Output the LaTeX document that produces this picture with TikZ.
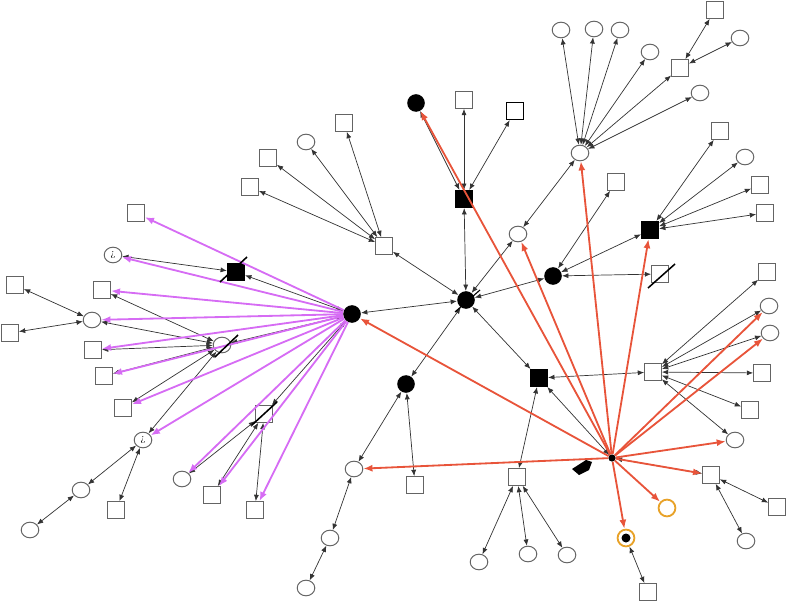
\documentclass[tikz,border=0pt]{standalone}
\usepackage{xcolor}
\usepackage{tikz}
\usetikzlibrary{shapes.geometric, arrows.meta, calc}
\definecolor{myred}{RGB}{232,84,58}
\definecolor{mypurple}{RGB}{214,108,244}
\definecolor{myorange}{RGB}{232,162,40}
\definecolor{mygray}{RGB}{100,100,100}
\tikzstyle{wcirc} = [ellipse, minimum width=0.44cm, minimum height=0.39cm, inner sep=0pt, draw=mygray, line width=0.7pt, fill=white]
\tikzstyle{wsq} = [rectangle, minimum size=0.42cm, inner sep=0pt, draw=mygray, line width=0.7pt, fill=white]
\tikzstyle{bcirc} = [circle, minimum size=0.44cm, inner sep=0pt, fill=black]
\tikzstyle{bsq} = [rectangle, minimum size=0.44cm, inner sep=0pt, fill=black]
\tikzstyle{oring} = [circle, minimum size=0.42cm, inner sep=0pt, draw=myorange, line width=1.3pt, fill=white]
\tikzstyle{link} = [{Latex[length=4.5pt,width=3.6pt]}-{Latex[length=4.5pt,width=3.6pt]}, black!80, line width=0.5pt]
\tikzstyle{redarrow} = [-{Latex[length=6.5pt,width=5pt]}, myred, line width=1.3pt]
\tikzstyle{purplearrow} = [-{Latex[length=6.5pt,width=5pt]}, mypurple, line width=1.3pt]
\tikzstyle{slash} = [black, line width=1.1pt]

\begin{document}
\begin{tikzpicture}[x=0.025cm, y=-0.025cm]
    \useasboundingbox (0,0) rectangle (788,603);
    % hubs
    \node (hub) [bcirc] at (466,300) {};
    \node (lhub) [bcirc] at (352,314) {};
    \node (rhub) [circle, fill=black, minimum size=0.18cm, inner sep=0pt] at (612,458) {};
    % top middle
    \node (tb) [bcirc] at (416,103) {};
    \node (tq) [wsq] at (464,100) {};
    \node (tqq) [wsq, draw=black, line width=1.2pt] at (515,111) {};
    \node (tbs) [bsq] at (464,199) {};
    \node (mc) [wcirc] at (518,234) {};
    \node (thub) [wcirc] at (580,153) {};
    \node (t1) [wcirc] at (561,30) {};
    \node (t2) [wcirc] at (594,29) {};
    \node (t3) [wcirc] at (620,30) {};
    \node (t4) [wcirc] at (650,52) {};
    \node (t5) [wcirc] at (700,93) {};
    \node (tsq) [wsq] at (680,68) {};
    \node (tsq1) [wsq] at (715,10) {};
    \node (tc1) [wcirc] at (740,38) {};
    % right side
    \node (msq) [wsq] at (616,182) {};
    \node (mb) [bcirc] at (553,276) {};
    \node (slq) [wsq] at (660,274) {};
    \node (rbs) [bsq] at (650,230) {};
    \node (r1) [wsq] at (720,131) {};
    \node (r2) [wcirc] at (745,157) {};
    \node (r3) [wsq] at (760,185) {};
    \node (r4) [wsq] at (765,213) {};
    \node (r5) [wsq] at (767,272) {};
    \node (r6) [wcirc] at (769,306) {};
    \node (r7) [wcirc] at (770,333) {};
    \node (shub) [wsq] at (653,372) {};
    \node (s1) [wsq] at (762,373) {};
    \node (s2) [wsq] at (750,410) {};
    \node (s3) [wcirc] at (735,440) {};
    \node (esq) [wsq] at (711,475) {};
    \node (e1) [wsq] at (777,507) {};
    \node (e2) [wcirc] at (746,541) {};
    \node (oc) [oring] at (667,508) {};
    \node (od) [oring] at (626,538) {};
    \fill (od) circle (3.2pt);
    \node (odq) [wsq] at (648,592) {};
    % bottom middle
    \node (cbs) [bsq] at (539,378) {};
    \node (bq) [wsq] at (517,477) {};
    \node (b1) [wcirc] at (479,562) {};
    \node (b2) [wcirc] at (528,554) {};
    \node (b3) [wcirc] at (567,555) {};
    \node (bb) [bcirc] at (406,384) {};
    \node (bbq) [wsq] at (415,485) {};
    \node (c1) [wcirc] at (354,469) {};
    \node (c2) [wcirc] at (330,538) {};
    \node (c3) [wcirc] at (306,588) {};
    % upper left
    \node (ulq) [wsq] at (384,246) {};
    \node (u1) [wsq] at (344,123) {};
    \node (u2) [wcirc] at (306,142) {};
    \node (u3) [wsq] at (268,158) {};
    \node (u4) [wsq] at (250,187) {};
    % left
    \node (lbs) [bsq] at (236,272) {};
    \node (lq1) [wsq] at (136,213) {};
    \node (le1) [wcirc] at (113,255) {\scriptsize ¿};
    \node (lq2) [wsq] at (102,290) {};
    \node (lc) [wcirc] at (92,320) {};
    \node (lq0) [wsq] at (15,285) {};
    \node (lq00) [wsq] at (10,333) {};
    \node (lhub2) [wcirc] at (222,345) {};
    \node (lq3) [wsq] at (93,350) {};
    \node (lq4) [wsq] at (104,376) {};
    \node (lq5) [wsq] at (123,408) {};
    \node (le2) [wcirc] at (143,440) {\scriptsize ¿};
    \node (lc2) [wcirc] at (81,490) {};
    \node (lc3) [wcirc] at (30,530) {};
    \node (lq6) [wsq] at (116,510) {};
    \node (lsq) [wsq] at (264,414) {};
    \node (lc4) [wcirc] at (182,479) {};
    \node (lq7) [wsq] at (212,495) {};
    \node (lq8) [wsq] at (255,510) {};

    % black links
    \foreach \a/\b in {hub/lhub, hub/tbs, hub/ulq, hub/mc, hub/mb, hub/bb, hub/cbs,
        tb/tbs, tbs/tq, tbs/tqq, mc/thub,
        thub/t1, thub/t2, thub/t3, thub/t4, thub/tsq, thub/t5, tsq/tsq1, tsq/tc1,
        mb/msq, mb/rbs, mb/slq, rbs/r1, rbs/r2, rbs/r3, rbs/r4,
        shub/cbs, shub/r5, shub/r6, shub/r7, shub/s1, shub/s2, shub/s3,
        cbs/rhub, cbs/bq, bq/b1, bq/b2, bq/b3, rhub/esq,
        bb/c1, bb/bbq, c1/c2, c2/c3, od/odq, esq/e1, esq/e2,
        ulq/u1, ulq/u2, ulq/u3, ulq/u4,
        lbs/lhub, lbs/le1, lc/lq0, lc/lq00,
        lhub2/lhub, lhub2/lc, lhub2/lq2, lhub2/lq3, lhub2/lq4, lhub2/lq5, lhub2/le2,
        le2/lc2, lc2/lc3, le2/lq6,
        lsq/lhub, lsq/lc4, lsq/lq7, lsq/lq8}
        \draw[link] (\a) -- (\b);

    % red links
    \foreach \b in {lhub, c1, tb, mc, thub, rbs, r6, r7, s3, esq, oc, od}
        \draw[redarrow] (rhub) -- (\b);

    % purple links
    \foreach \b in {lq1, le1, lq2, lc, lq3, lq4, lq5, le2, lc4, lq7, lq8}
        \draw[purplearrow] (lhub) -- (\b);

    % slashes
    \draw[slash] ($(lbs)+(-16,10)$) -- ($(lbs)+(11,-15)$);
    \draw[slash] ($(lhub2)+(-7,12)$) -- ($(lhub2)+(16,-10)$);
    \draw[slash] ($(lsq)+(-12,11)$) -- ($(lsq)+(13,-12)$);
    \draw[slash] ($(slq)+(-12,14)$) -- ($(slq)+(15,-10)$);
    \draw[slash, line width=0.8pt] ($(hub)+(-11,12)$) -- ($(hub)+(14,-10)$);
    \fill (572,469) -- (586,460) -- (592,462) -- (589,470) -- (579,475) -- cycle;
\end{tikzpicture}
\end{document}
